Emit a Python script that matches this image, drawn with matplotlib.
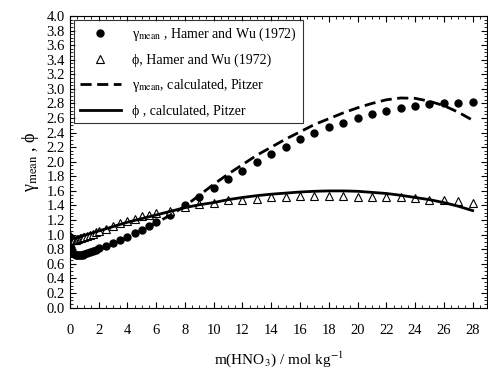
import matplotlib
matplotlib.use('Agg')
import matplotlib.pyplot as plt
from matplotlib.ticker import MultipleLocator

plt.rcParams['font.family'] = ['Liberation Serif', 'DejaVu Serif']
plt.rcParams['mathtext.fontset'] = 'stix'

# Hamer and Wu (1972) experimental data
m_exp = [0.001, 0.002, 0.005, 0.01, 0.02, 0.05, 0.1, 0.2, 0.3, 0.4, 0.5, 0.6, 0.7, 0.8, 0.9,
         1.0, 1.2, 1.4, 1.6, 1.8, 2.0, 2.5, 3.0, 3.5, 4.0, 4.5, 5.0, 5.5, 6.0,
         7, 8, 9, 10, 11, 12, 13, 14, 15, 16, 17, 18, 19, 20, 21, 22, 23, 24, 25, 26, 27, 28]
gamma_exp = [0.965, 0.951, 0.927, 0.902, 0.871, 0.823, 0.785, 0.748, 0.733, 0.725, 0.721, 0.720, 0.720, 0.723, 0.727,
             0.732, 0.744, 0.759, 0.776, 0.794, 0.82, 0.85, 0.89, 0.93, 0.97, 1.02, 1.07, 1.12, 1.17,
             1.27, 1.40, 1.52, 1.64, 1.76, 1.88, 2.00, 2.10, 2.20, 2.31, 2.39, 2.47, 2.53, 2.60, 2.65, 2.70,
             2.74, 2.77, 2.79, 2.80, 2.81, 2.82]
phi_exp = [0.988, 0.984, 0.976, 0.967, 0.955, 0.936, 0.927, 0.923, 0.925, 0.930, 0.937, 0.944, 0.950, 0.958, 0.965,
           0.972, 0.985, 1.00, 1.015, 1.03, 1.05, 1.08, 1.12, 1.16, 1.19, 1.22, 1.25, 1.27, 1.30,
           1.33, 1.38, 1.42, 1.44, 1.47, 1.48, 1.49, 1.51, 1.52, 1.53, 1.535, 1.535, 1.53, 1.52, 1.52, 1.51,
           1.51, 1.50, 1.48, 1.47, 1.46, 1.44]

# Pitzer model curves
m_calc = [0, 0.02, 0.05, 0.1, 0.2, 0.4, 0.7, 1, 1.5, 2, 3, 4, 5, 6, 7, 8, 9, 10, 11, 12, 13, 14,
          15, 16, 17, 18, 19, 20, 21, 22, 23, 24, 25, 26, 27, 28]
gamma_calc = [1.0, 0.88, 0.83, 0.79, 0.75, 0.73, 0.72, 0.725, 0.75, 0.79, 0.87, 0.96, 1.06, 1.16, 1.27,
              1.39, 1.54, 1.69, 1.83, 1.96, 2.09, 2.20, 2.31, 2.41, 2.51, 2.59, 2.67, 2.74, 2.80, 2.85,
              2.875, 2.87, 2.83, 2.77, 2.68, 2.57]
phi_calc = [1.0, 0.96, 0.95, 0.945, 0.945, 0.955, 0.97, 0.99, 1.02, 1.05, 1.11, 1.17, 1.22, 1.27, 1.32,
            1.37, 1.41, 1.44, 1.48, 1.51, 1.535, 1.555, 1.57, 1.585, 1.595, 1.60, 1.60, 1.595, 1.58, 1.565,
            1.54, 1.51, 1.48, 1.44, 1.39, 1.33]

fig = plt.figure(figsize=(4.88, 3.71), dpi=100)
ax = fig.add_axes([0.143, 0.171, 0.855, 0.786])

ax.plot(m_exp, gamma_exp, 'o', color='black', markersize=5, label='γ$_{\\mathrm{mean}}$ , Hamer and Wu (1972)')
ax.plot(m_exp, phi_exp, '^', markerfacecolor='white', markeredgecolor='black', markersize=5.5, markeredgewidth=0.8,
        label='ϕ, Hamer and Wu (1972)')
ax.plot(m_calc, gamma_calc, '--', color='black', linewidth=2, dashes=(4, 2),
        label='γ$_{\\mathrm{mean}}$, calculated, Pitzer')
ax.plot(m_calc, phi_calc, '-', color='black', linewidth=2, label='ϕ , calculated, Pitzer')

ax.set_xlim(0, 29)
ax.set_ylim(0, 4)
ax.xaxis.set_major_locator(MultipleLocator(2))
ax.xaxis.set_minor_locator(MultipleLocator(0.5))
ax.yaxis.set_major_locator(MultipleLocator(0.2))
ax.yaxis.set_minor_locator(MultipleLocator(0.05))
ax.xaxis.set_major_formatter(plt.FuncFormatter(lambda v, p: '%d' % v))
ax.yaxis.set_major_formatter(plt.FuncFormatter(lambda v, p: '%.1f' % v))
ax.tick_params(which='both', direction='in', top=True, right=True, labelsize=10.5)
ax.tick_params(which='major', length=4)
ax.tick_params(which='minor', length=2)
ax.tick_params(axis='x', pad=12)

ax.set_xlabel('m(HNO$_3$) / mol kg$^{-1}$', fontsize=11, labelpad=9)
ax.set_ylabel('γ$_{\\mathrm{mean}}$ , ϕ', fontsize=13, labelpad=4)

leg = ax.legend(loc='upper left', fontsize=10, frameon=True, fancybox=False, edgecolor='black',
                handlelength=3, borderaxespad=0.3, labelspacing=0.75)
leg.get_frame().set_linewidth(0.8)

fig.savefig('out.png', dpi=100)
